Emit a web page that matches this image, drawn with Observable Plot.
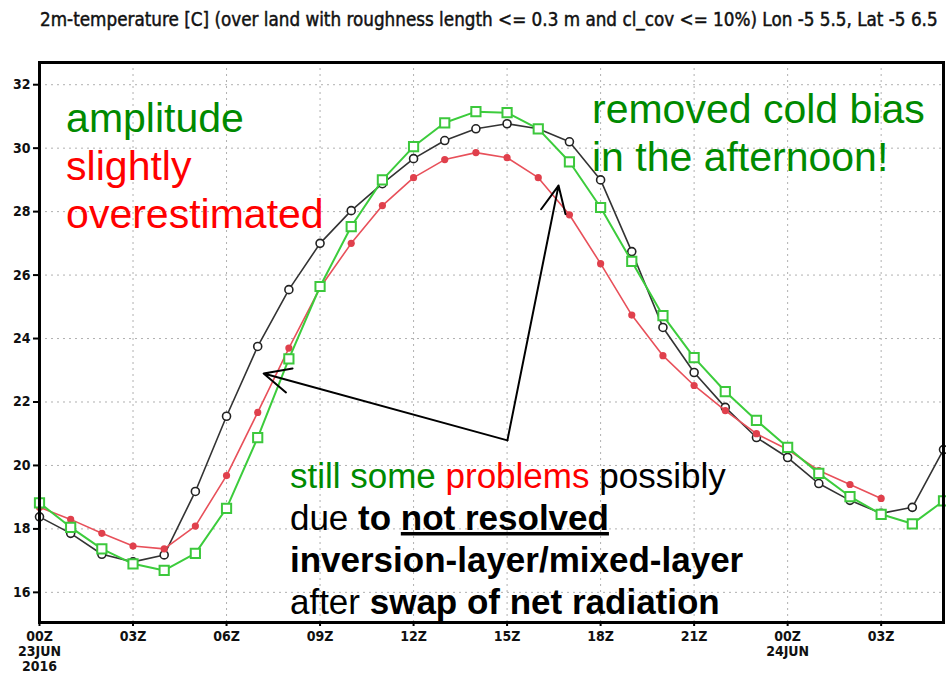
<!DOCTYPE html>
<html>
<head>
<meta charset="utf-8">
<script src="https://cdn.jsdelivr.net/npm/d3@7"></script>
<script src="https://cdn.jsdelivr.net/npm/@observablehq/plot@0.6"></script>
<style>
  html, body { margin: 0; padding: 0; background: #fff; }
  #chart svg { display: block; }
</style>
</head>
<body>
<div id="chart"></div>
<script>
// Hourly 2 m temperature (°C), 00Z 23 JUN 2016 onwards
const hours = d3.range(0, 30);
const refTemp = [18.38, 17.86, 17.2, 16.96, 17.18, 19.18, 21.55, 23.75, 25.54, 27.0,
  28.03, 28.88, 29.67, 30.24, 30.61, 30.77, 30.61, 30.2, 29.0, 26.74,
  24.35, 22.93, 21.83, 20.88, 20.25, 19.43, 18.9, 18.49, 18.68, 20.5];
const oldTemp = [18.68, 18.3, 17.86, 17.46, 17.37, 18.09, 19.68, 21.67, 23.7, 25.6,
  27.0, 28.19, 29.07, 29.64, 29.86, 29.7, 29.07, 27.9, 26.36, 24.74,
  23.46, 22.52, 21.73, 21.0, 20.5, 19.84, 19.4, 18.96];
const newTemp = [18.82, 18.05, 17.37, 16.9, 16.69, 17.23, 18.65, 20.88, 23.36, 25.64,
  27.53, 29.0, 30.05, 30.8, 31.15, 31.12, 30.61, 29.57, 28.13, 26.43,
  24.72, 23.4, 22.33, 21.42, 20.57, 19.75, 19.02, 18.46, 18.16, 18.88];

// Axis ticks
const xTickHours = [0, 3, 6, 9, 12, 15, 18, 21, 24, 27];
const xTickLabels = ["00Z\n23JUN\n2016", "03Z", "06Z", "09Z", "12Z", "15Z", "18Z", "21Z", "00Z\n24JUN", "03Z"];
const yTicks = [16, 18, 20, 22, 24, 26, 28, 30, 32];

const titleText = "2m-temperature [C] (over land with roughness length <= 0.3 m and cl_cov <= 10%) Lon -5 5.5, Lat -5 6.5";

// Annotation arrows: shared tail, two heads
const arrowTail = {x: 15.01, y: 20.79};
const arrowHeads = [{x: 7.19, y: 22.9}, {x: 16.65, y: 28.82}];

// Annotation text lines (position in hours / °C, runs of styled text)
const GREEN = "#008a00", RED = "#ff0000", BLACK = "#000";
const notes = [
  {x: 0.87, y: 30.49, size: 41, runs: [{t: "amplitude", fill: GREEN}]},
  {x: 0.87, y: 28.98, size: 41, runs: [{t: "slightly", fill: RED}]},
  {x: 0.87, y: 27.46, size: 41, runs: [{t: "overestimated", fill: RED}]},
  {x: 17.74, y: 30.77, size: 41, runs: [{t: "removed cold bias", fill: GREEN}]},
  {x: 17.74, y: 29.26, size: 41, runs: [{t: "in the afternoon!", fill: GREEN}]},
  {x: 8.05, y: 19.28, size: 35, runs: [{t: "still some ", fill: GREEN}, {t: "problems", fill: RED}, {t: " possibly", fill: BLACK}]},
  {x: 8.05, y: 17.95, size: 35, runs: [{t: "due ", fill: BLACK}, {t: "to ", fill: BLACK, bold: true}, {t: "not resolved", fill: BLACK, bold: true, underline: true}]},
  {x: 8.05, y: 16.63, size: 35, runs: [{t: "inversion-layer/mixed-layer", fill: BLACK, bold: true}]},
  {x: 8.05, y: 15.31, size: 35, runs: [{t: "after ", fill: BLACK}, {t: "swap of net radiation", fill: BLACK, bold: true}]}
];

const series = (vals) => vals.map((v, i) => ({hour: hours[i], temp: v}));
const ref = series(refTemp), old = series(oldTemp), neu = series(newTemp);

const labelFont = "'DejaVu Sans Condensed', 'Liberation Sans Narrow', 'DejaVu Sans', sans-serif";

const chart = Plot.plot({
  width: 946,
  height: 679,
  marginLeft: 39,
  marginRight: 3,
  marginTop: 62,
  marginBottom: 57,
  style: {background: "#fff", overflow: "visible"},
  x: {domain: [0, 29]},
  y: {domain: [15.05, 32.7]},
  marks: [
    Plot.gridX(xTickHours, {stroke: "#b0b0b0", strokeOpacity: 1, strokeDasharray: "2,4"}),
    Plot.gridY(yTicks, {stroke: "#b0b0b0", strokeOpacity: 1, strokeDasharray: "2,4"}),
    Plot.axisY(yTicks, {
      tickSize: 6, tickPadding: 3, label: null,
      fontSize: 14, fontWeight: "bold", fontFamily: labelFont, fill: "#111",
      strokeWidth: 2
    }),
    Plot.axisX(xTickHours, {
      tickSize: 4, tickPadding: 4, label: null,
      tickFormat: (d) => xTickLabels[xTickHours.indexOf(d)],
      fontSize: 14, fontWeight: "bold", fontFamily: labelFont, fill: "#111",
      lineHeight: 1.08, strokeWidth: 2
    }),
    // reference run: dark line with open circles
    Plot.line(ref, {x: "hour", y: "temp", stroke: "#333", strokeWidth: 1.6}),
    Plot.dot(ref, {x: "hour", y: "temp", r: 4, fill: "#fff", stroke: "#222", strokeWidth: 1.6}),
    // old scheme: red line with filled dots
    Plot.line(old, {x: "hour", y: "temp", stroke: "#e8505a", strokeWidth: 1.6}),
    Plot.dot(old, {x: "hour", y: "temp", r: 3.6, fill: "#e0404c", stroke: "none"}),
    // new scheme: green line with open squares
    Plot.line(neu, {x: "hour", y: "temp", stroke: "#3ccc3c", strokeWidth: 2}),
    Plot.dot(neu, {x: "hour", y: "temp", symbol: "square", r: 5.2, fill: "#fff", stroke: "#3cc83c", strokeWidth: 2}),
    Plot.frame({stroke: "#000", strokeWidth: 3}),
    Plot.arrow(arrowHeads, {
      x1: () => arrowTail.x, y1: () => arrowTail.y, x2: "x", y2: "y",
      stroke: "#000", strokeWidth: 2, headLength: 22, headAngle: 50, bend: 0
    })
  ]
});

document.getElementById("chart").append(chart);

const svg = d3.select(chart);
const sx = chart.scale("x"), sy = chart.scale("y");

// chart title above the frame, narrowed horizontally to span the frame width
const title = svg.append("text")
  .attr("x", 0).attr("y", 0)
  .attr("text-anchor", "start")
  .attr("font-family", labelFont).attr("font-size", 19).attr("fill", "#111")
  .attr("stroke", "#111").attr("stroke-width", 0.45)
  .text(titleText);
const natural = title.node().getComputedTextLength();
const squeeze = Math.min(1, 898 / natural);
title.attr("transform", `translate(40,26) scale(${squeeze},1)`);

// annotation lines
for (const n of notes) {
  const t = svg.append("text")
    .attr("x", sx.apply(n.x)).attr("y", sy.apply(n.y))
    .attr("text-anchor", "start")
    .attr("font-family", "'Liberation Sans', Arial, sans-serif")
    .attr("font-size", n.size)
    .attr("xml:space", "preserve")
    .style("white-space", "pre");
  for (const r of n.runs) {
    t.append("tspan")
      .attr("fill", r.fill)
      .attr("font-weight", r.bold ? "bold" : "normal")
      .style("text-decoration", r.underline ? "underline" : null)
      .style("text-decoration-thickness", r.underline ? "3px" : null)
      .text(r.t);
  }
}
</script>
</body>
</html>
